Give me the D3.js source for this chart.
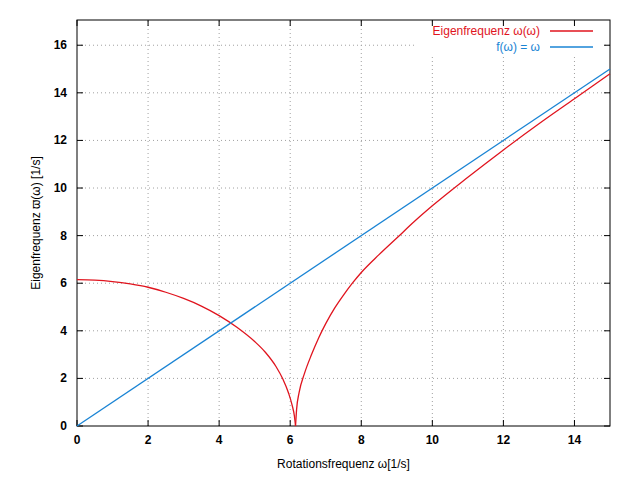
<!DOCTYPE html><html><head><script src="https://d3js.org/d3.v7.min.js"></script>
<style>body{margin:0;background:#fff}text{font-family:"Liberation Sans",Arial,sans-serif}</style></head><body><svg id="c" width="640" height="488"></svg><script>
const xTicks=[0,2,4,6,8,10,12,14];
const yTicks=[0,2,4,6,8,10,12,14,16];
const redLeftX=[0,0.5,1,1.5,2,2.5,3,3.5,4,4.5,5,5.3,5.6,5.8,5.95,6.05,6.12,6.15];
const redLeftY=[6.15,6.13,6.07,5.97,5.83,5.62,5.36,5.04,4.64,4.15,3.55,3.1,2.5,1.95,1.4,0.9,0.4,0];
const redRightX=[6.15,6.18,6.25,6.4,6.6,6.8,7,7.25,7.5,7.75,8,8.5,9,9.5,10,11,12,13,14,15];
const redRightY=[0,0.7,1.4,2.2,3.0,3.7,4.3,4.95,5.5,6.0,6.45,7.2,7.9,8.6,9.25,10.45,11.6,12.7,13.75,14.8];
const blueX=[0,15], blueY=[0,15];
const svg=d3.select("#c");
const L=77,R=610,T=20,B=426;
const x=d3.scaleLinear().domain([0,15]).range([L,R]);
const y=d3.scaleLinear().domain([0,17.06]).range([B,T]);
const g=svg.append("g");
xTicks.filter(v=>v>0).forEach(v=>g.append("line").attr("x1",x(v)).attr("x2",x(v)).attr("y1",B).attr("y2",T).attr("stroke","#a0a0a0").attr("stroke-dasharray","1,3"));
yTicks.filter(v=>v>0).forEach(v=>g.append("line").attr("x1",L).attr("x2",R).attr("y1",y(v)).attr("y2",y(v)).attr("stroke","#a0a0a0").attr("stroke-dasharray","1,3"));
svg.append("rect").attr("x",415).attr("y",22).attr("width",190).attr("height",35).attr("fill","#fff");
const ax=svg.append("g");
xTicks.forEach(v=>{ax.append("line").attr("x1",x(v)).attr("x2",x(v)).attr("y1",B).attr("y2",B-6).attr("stroke","#000");
 ax.append("line").attr("x1",x(v)).attr("x2",x(v)).attr("y1",T).attr("y2",T+6).attr("stroke","#000");
 ax.append("text").attr("x",x(v)).attr("y",B+18).attr("text-anchor","middle").attr("font-size",12).attr("font-weight","bold").text(v);});
yTicks.forEach(v=>{ax.append("line").attr("x1",L).attr("x2",L+6).attr("y1",y(v)).attr("y2",y(v)).attr("stroke","#000");
 ax.append("line").attr("x1",R).attr("x2",R-6).attr("y1",y(v)).attr("y2",y(v)).attr("stroke","#000");
 ax.append("text").attr("x",L-10).attr("y",y(v)+4).attr("text-anchor","end").attr("font-size",12).attr("font-weight","bold").text(v);});
svg.append("rect").attr("x",L).attr("y",T).attr("width",R-L).attr("height",B-T).attr("fill","none").attr("stroke","#000");
const line=d3.line().x(d=>x(d[0])).y(d=>y(d[1])).curve(d3.curveMonotoneX);
const draw=(xs,ys,c)=>svg.append("path").attr("d",line(xs.map((v,i)=>[v,ys[i]]))).attr("fill","none").attr("stroke",c).attr("stroke-width",1.3);
draw(redLeftX,redLeftY,"#e0141e");draw(redRightX,redRightY,"#e0141e");draw(blueX,blueY,"#1a84d4");
svg.append("text").attr("x",540).attr("y",35).attr("text-anchor","end").attr("font-size",12).attr("fill","#e0141e").text("Eigenfrequenz ω(ω)");
svg.append("line").attr("x1",550).attr("x2",593).attr("y1",31).attr("y2",31).attr("stroke","#e0141e").attr("stroke-width",1.3);
svg.append("text").attr("x",540).attr("y",51).attr("text-anchor","end").attr("font-size",12).attr("fill","#1a84d4").text("f(ω) = ω");
svg.append("line").attr("x1",550).attr("x2",593).attr("y1",47).attr("y2",47).attr("stroke","#1a84d4").attr("stroke-width",1.3);
svg.append("text").attr("x",(L+R)/2).attr("y",468).attr("text-anchor","middle").attr("font-size",12).text("Rotationsfrequenz ω[1/s]");
svg.append("text").attr("transform","translate(40,"+(T+B)/2+") rotate(-90)").attr("text-anchor","middle").attr("font-size",12).text("Eigenfrequenz ϖ(ω) [1/s]");
</script></body></html>
